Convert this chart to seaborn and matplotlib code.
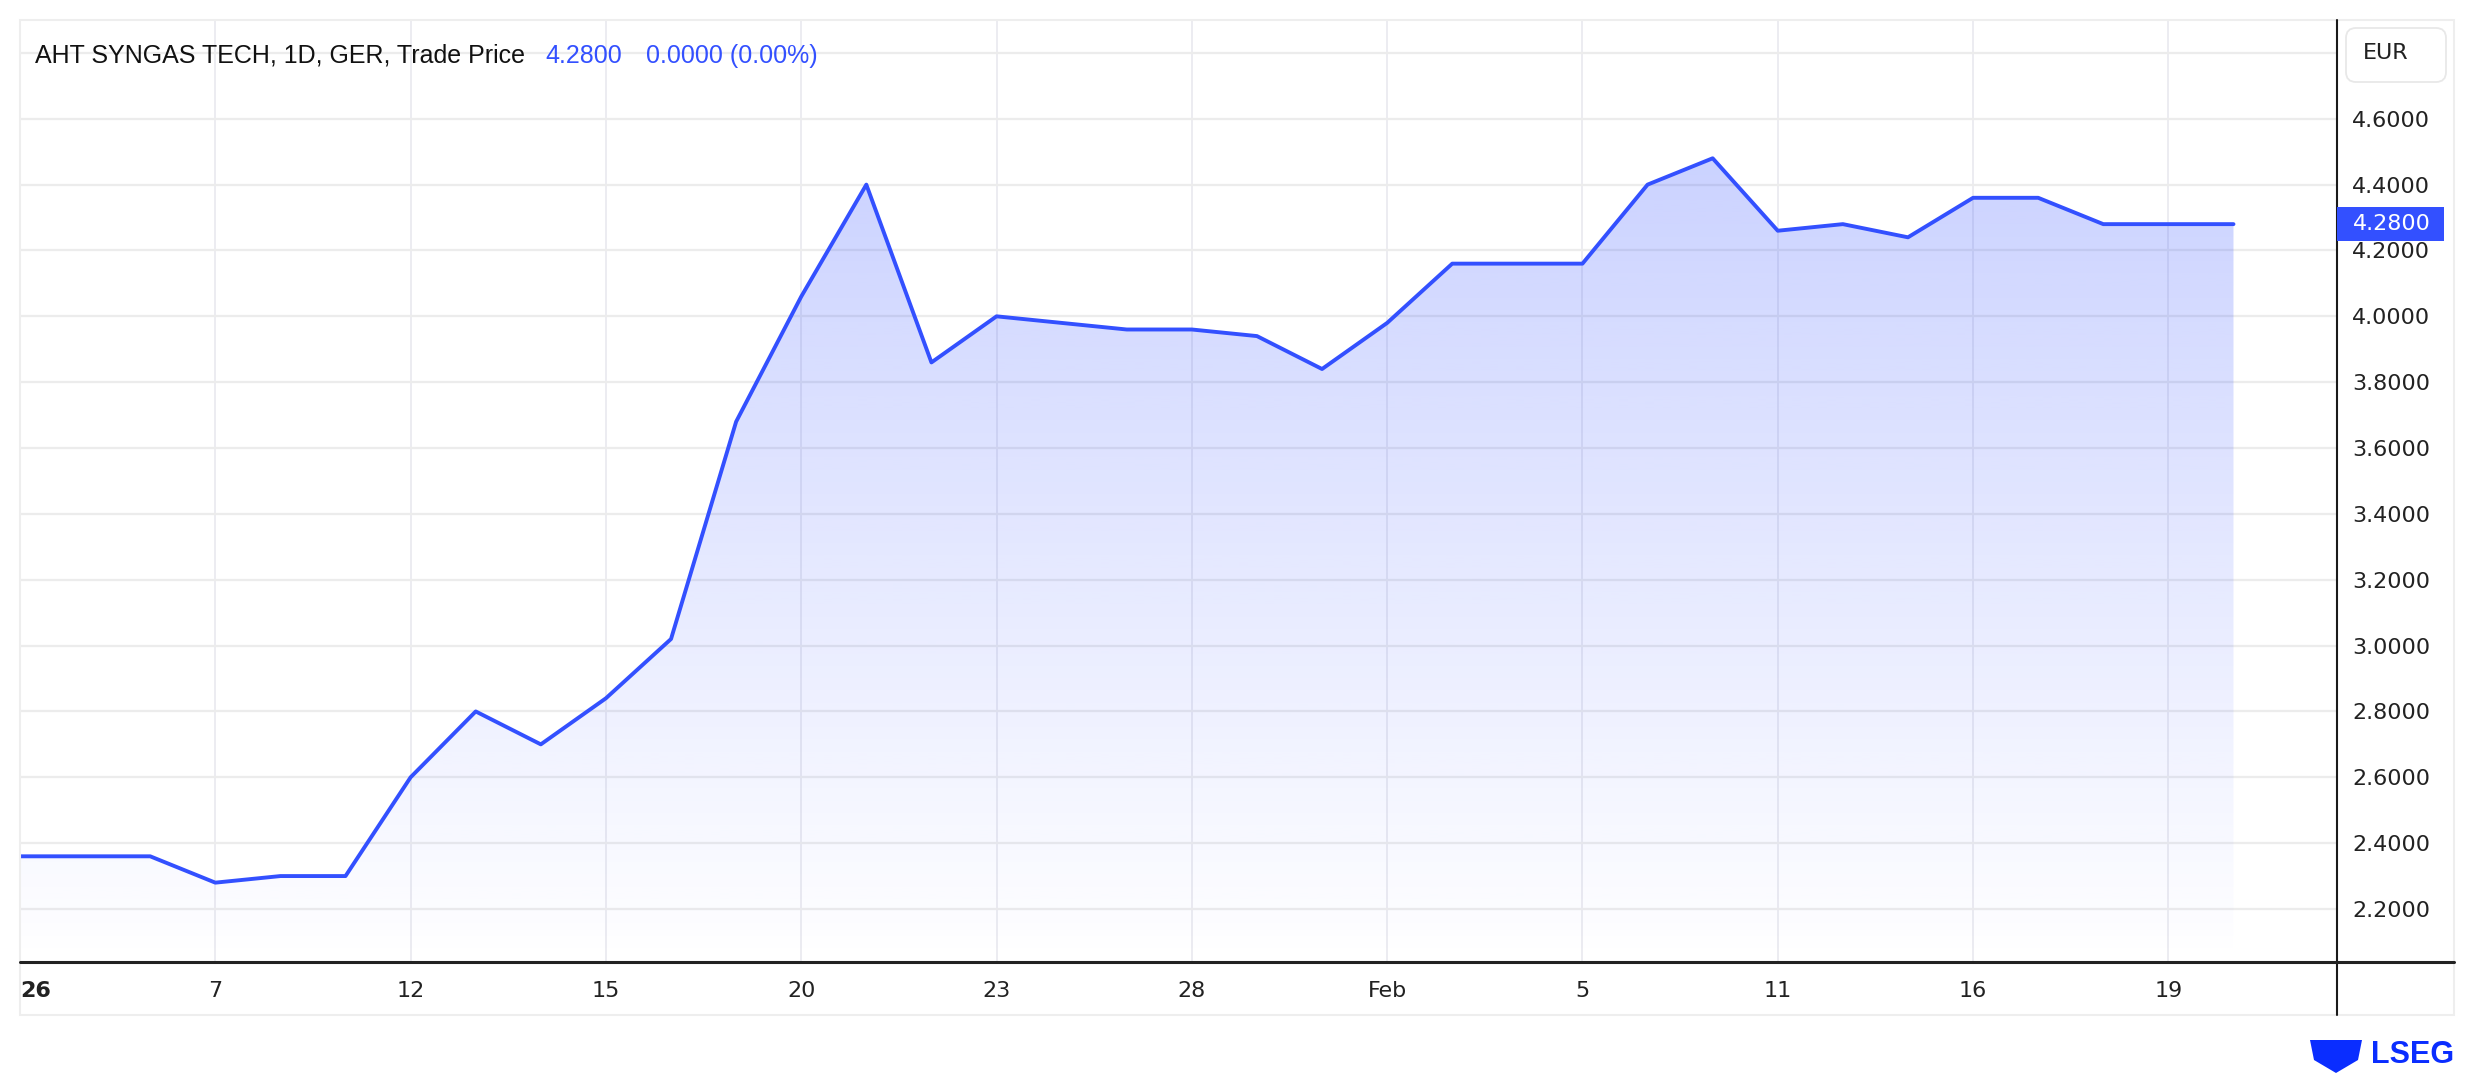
import numpy as np
import pandas as pd
import matplotlib
matplotlib.use("Agg")
import matplotlib.pyplot as plt
import seaborn as sns
from matplotlib.patches import FancyBboxPatch, Rectangle, Polygon
from matplotlib.lines import Line2D
from matplotlib.transforms import blended_transform_factory
from matplotlib.ticker import FuncFormatter, FixedLocator

# ---------------- data ----------------
day_index = list(range(35))
price = [2.36, 2.36, 2.36, 2.28, 2.30, 2.30, 2.60, 2.80, 2.70, 2.84,
         3.02, 3.68, 4.06, 4.40, 3.86, 4.00, 3.98, 3.96, 3.96, 3.94,
         3.84, 3.98, 4.16, 4.16, 4.16, 4.40, 4.48, 4.26, 4.28, 4.24,
         4.36, 4.36, 4.28, 4.28, 4.28]
tick_pos = [0, 3, 6, 9, 12, 15, 18, 21, 24, 27, 30, 33]
tick_labels = ["26", "7", "12", "15", "20", "23", "28", "Feb", "5", "11", "16", "19"]
y_ticks = [2.2, 2.4, 2.6, 2.8, 3.0, 3.2, 3.4, 3.6, 3.8, 4.0, 4.2, 4.4, 4.6, 4.8]
title_text = "AHT SYNGAS TECH, 1D, GER, Trade Price"
last_price = 4.28
change = 0.0
change_pct = 0.0
currency = "EUR"

# ---------------- style ----------------
sns.set_theme(style="white")
plt.rcParams['font.family'] = ['DejaVu Sans']
TITLE_FONT = ['Liberation Sans', 'DejaVu Sans']

BLUE = "#3350ff"
W, H = 2474, 1076
fig = plt.figure(figsize=(W / 100, H / 100), dpi=100)
fig.patch.set_facecolor("white")

ax_left, ax_right, ax_top, ax_bottom = 20, 2337, 20, 962
ax = fig.add_axes([ax_left / W, (H - ax_bottom) / H, (ax_right - ax_left) / W, (ax_bottom - ax_top) / H])

df = pd.DataFrame({"idx": day_index, "price": price})
sns.lineplot(data=df, x="idx", y="price", ax=ax, color=BLUE, linewidth=2.8, zorder=4)

YMIN, YMAX = 2.039, 4.9
ax.set_xlim(0, 35.59)
ax.set_ylim(YMIN, YMAX)

# gradient fill under the line
poly = ax.fill_between(df["idx"], df["price"], 2.07, color="none", linewidth=0)
n = 256
alpha = np.linspace(0.0, 0.30, n)
rgb = matplotlib.colors.to_rgb(BLUE)
img = np.zeros((n, 1, 4))
img[:, 0, 0] = rgb[0]
img[:, 0, 1] = rgb[1]
img[:, 0, 2] = rgb[2]
img[:, 0, 3] = alpha
im = ax.imshow(img, extent=[0, max(day_index), YMIN, YMAX], origin="lower",
               aspect="auto", zorder=2, interpolation="bilinear")
im.set_clip_path(poly.get_paths()[0], ax.transData)
ax.set_xlim(0, 35.59)
ax.set_ylim(YMIN, YMAX)

# grid and ticks
ax.xaxis.set_major_locator(FixedLocator(tick_pos))
ax.set_xticklabels(tick_labels)
ax.yaxis.set_major_locator(FixedLocator(y_ticks))
ax.yaxis.set_major_formatter(FuncFormatter(lambda v, p: "" if v > 4.7 else f"{v:.4f}"))
ax.grid(False)
ax.xaxis.grid(True, color="#ebebf0", linewidth=1.3, zorder=0)
ax.yaxis.grid(True, color="#ececec", linewidth=1.6, zorder=0)
ax.set_axisbelow(True)
for s in ax.spines.values():
    s.set_visible(False)
ax.set_xlabel("")
ax.set_ylabel("")
ax.yaxis.tick_right()
ax.tick_params(axis="y", length=0, pad=11, labelsize=16, labelcolor="#222222")
ax.tick_params(axis="x", length=0, pad=14, labelsize=16, labelcolor="#222222")
first = ax.get_xticklabels()[0]
first.set_fontweight("bold")
first.set_horizontalalignment("left")

# frame and axes lines
fig.add_artist(Rectangle((20 / W, 1 - 1015 / H), (2454 - 20) / W, (1015 - 20) / H,
                         transform=fig.transFigure, fill=False, edgecolor="#eeeeee", linewidth=1.5))
fig.add_artist(Line2D([ax_right / W, ax_right / W], [1 - 20 / H, 1 - 1015 / H],
                      transform=fig.transFigure, color="#1a1a1a", linewidth=1.5))
fig.add_artist(Line2D([20 / W, 2454 / W], [1 - ax_bottom / H, 1 - ax_bottom / H],
                      transform=fig.transFigure, color="#222222", linewidth=2.2))

# last price tag
bt = blended_transform_factory(fig.transFigure, ax.transData)
tag_h = 34 / 330
fig.add_artist(FancyBboxPatch((ax_right / W, last_price - tag_h / 2), (2444 - ax_right) / W, tag_h,
                              boxstyle="square,pad=0", transform=bt, facecolor=BLUE,
                              edgecolor="none", zorder=5))
fig.text(2353 / W, last_price, f"{last_price:.4f}", transform=bt, color="white", fontsize=16,
         va="center", ha="left", zorder=6)

# currency box
fig.add_artist(FancyBboxPatch((2350, H - 78), 92, 46, boxstyle="round,pad=4,rounding_size=10",
                              transform=None, facecolor="white", edgecolor="#e8e8e8",
                              linewidth=1.3, zorder=5))
fig.text(2363 / W, 1 - 53 / H, currency, fontsize=16, color="#222222", va="center", ha="left", zorder=6)

# title
fig.text(35 / W, 1 - 56 / H, title_text, fontsize=18, color="#111111", va="center", ha="left",
         family=TITLE_FONT)
fig.text(545 / W, 1 - 56 / H, f"{last_price:.4f}", fontsize=18, color=BLUE,
         va="center", ha="left", family=TITLE_FONT)
fig.text(646 / W, 1 - 56 / H, f"{change:.4f} ({change_pct:.2f}%)", fontsize=18,
         color=BLUE, va="center", ha="left", family=TITLE_FONT)

# LSEG logo
LOGO = "#0a2dff"
fig.text(2454 / W, 1 - 1055 / H, "LSEG", fontsize=22, fontweight="bold", color=LOGO,
         va="center", ha="right", family=TITLE_FONT)
shield = Polygon([(2310, H - 1040), (2362, H - 1040), (2358, H - 1060), (2336, H - 1073),
                  (2314, H - 1060)], closed=True, transform=None, facecolor=LOGO, edgecolor="none")
fig.add_artist(shield)

fig.savefig("out.png", dpi=100, facecolor="white")
